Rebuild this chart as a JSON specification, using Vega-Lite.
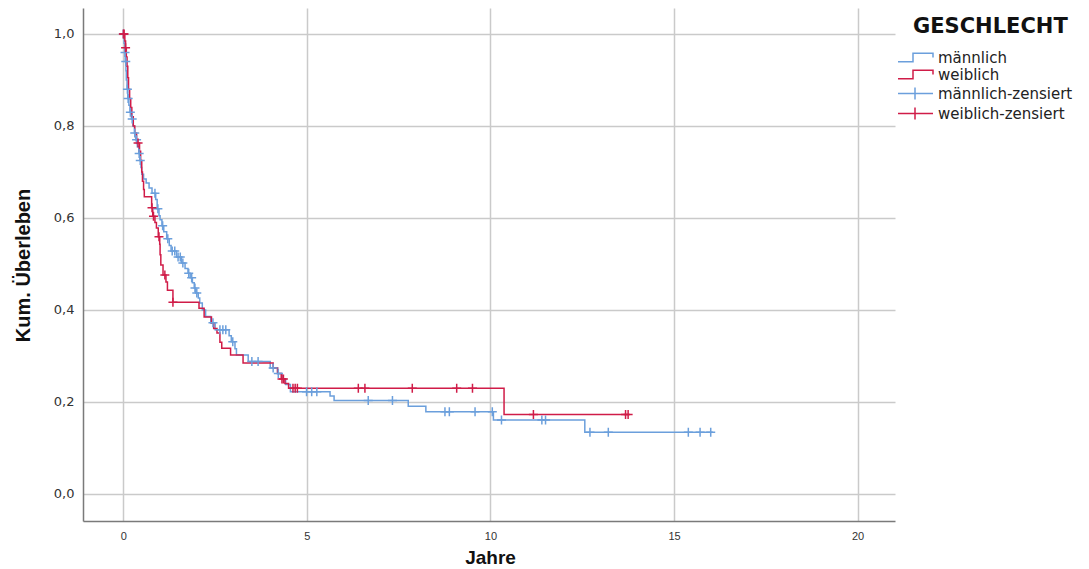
{
  "$schema": "https://vega.github.io/schema/vega-lite/v6.json",
  "autosize": "none",
  "width": 812,
  "height": 513,
  "padding": {"left": 83, "top": 8, "right": 194, "bottom": 48},
  "background": "white",
  "config": {
    "view": {"stroke": null},
    "font": "Liberation Sans"
  },
  "datasets": {
    "curve": [
      {"g": "männlich", "t": 0, "s": 1.0},
      {"g": "männlich", "t": 0.02, "s": 0.98},
      {"g": "männlich", "t": 0.04, "s": 0.96},
      {"g": "männlich", "t": 0.05, "s": 0.94},
      {"g": "männlich", "t": 0.07, "s": 0.92},
      {"g": "männlich", "t": 0.08, "s": 0.9},
      {"g": "männlich", "t": 0.1, "s": 0.88},
      {"g": "männlich", "t": 0.12, "s": 0.86},
      {"g": "männlich", "t": 0.15, "s": 0.845},
      {"g": "männlich", "t": 0.18, "s": 0.83},
      {"g": "männlich", "t": 0.22, "s": 0.815},
      {"g": "männlich", "t": 0.26, "s": 0.8},
      {"g": "männlich", "t": 0.3, "s": 0.785},
      {"g": "männlich", "t": 0.34, "s": 0.77},
      {"g": "männlich", "t": 0.38, "s": 0.755},
      {"g": "männlich", "t": 0.42, "s": 0.74},
      {"g": "männlich", "t": 0.45, "s": 0.725},
      {"g": "männlich", "t": 0.48, "s": 0.71},
      {"g": "männlich", "t": 0.5, "s": 0.695},
      {"g": "männlich", "t": 0.55, "s": 0.685},
      {"g": "männlich", "t": 0.62, "s": 0.676},
      {"g": "männlich", "t": 0.7, "s": 0.665},
      {"g": "männlich", "t": 0.78, "s": 0.654},
      {"g": "männlich", "t": 0.88, "s": 0.64},
      {"g": "männlich", "t": 0.92, "s": 0.62},
      {"g": "männlich", "t": 0.97, "s": 0.605},
      {"g": "männlich", "t": 1.0, "s": 0.596},
      {"g": "männlich", "t": 1.05, "s": 0.583},
      {"g": "männlich", "t": 1.1, "s": 0.57},
      {"g": "männlich", "t": 1.18, "s": 0.555},
      {"g": "männlich", "t": 1.25, "s": 0.54},
      {"g": "männlich", "t": 1.3, "s": 0.528},
      {"g": "männlich", "t": 1.45, "s": 0.515},
      {"g": "männlich", "t": 1.58, "s": 0.502},
      {"g": "männlich", "t": 1.68, "s": 0.49},
      {"g": "männlich", "t": 1.76, "s": 0.48},
      {"g": "männlich", "t": 1.82, "s": 0.47},
      {"g": "männlich", "t": 1.88, "s": 0.459},
      {"g": "männlich", "t": 1.93, "s": 0.448},
      {"g": "männlich", "t": 1.97, "s": 0.437},
      {"g": "männlich", "t": 2.04, "s": 0.426},
      {"g": "männlich", "t": 2.08, "s": 0.415},
      {"g": "männlich", "t": 2.15, "s": 0.4},
      {"g": "männlich", "t": 2.24, "s": 0.386},
      {"g": "männlich", "t": 2.38, "s": 0.372},
      {"g": "männlich", "t": 2.5, "s": 0.357},
      {"g": "männlich", "t": 2.88, "s": 0.344},
      {"g": "männlich", "t": 2.94, "s": 0.331},
      {"g": "männlich", "t": 3.04, "s": 0.316},
      {"g": "männlich", "t": 3.08, "s": 0.302},
      {"g": "männlich", "t": 3.4, "s": 0.288},
      {"g": "männlich", "t": 4.0, "s": 0.274},
      {"g": "männlich", "t": 4.2, "s": 0.262},
      {"g": "männlich", "t": 4.32, "s": 0.25},
      {"g": "männlich", "t": 4.42, "s": 0.238},
      {"g": "männlich", "t": 4.55, "s": 0.2225},
      {"g": "männlich", "t": 5.63, "s": 0.213},
      {"g": "männlich", "t": 5.74, "s": 0.203},
      {"g": "männlich", "t": 7.76, "s": 0.191},
      {"g": "männlich", "t": 8.24, "s": 0.179},
      {"g": "männlich", "t": 10.08, "s": 0.161},
      {"g": "männlich", "t": 12.57, "s": 0.134},
      {"g": "männlich", "t": 16.06, "s": 0.134},
      {"g": "weiblich", "t": 0, "s": 1.0},
      {"g": "weiblich", "t": 0.04, "s": 0.985},
      {"g": "weiblich", "t": 0.06, "s": 0.97},
      {"g": "weiblich", "t": 0.08, "s": 0.95},
      {"g": "weiblich", "t": 0.1, "s": 0.93},
      {"g": "weiblich", "t": 0.12, "s": 0.905},
      {"g": "weiblich", "t": 0.14, "s": 0.88},
      {"g": "weiblich", "t": 0.17, "s": 0.86},
      {"g": "weiblich", "t": 0.2, "s": 0.84},
      {"g": "weiblich", "t": 0.23, "s": 0.82},
      {"g": "weiblich", "t": 0.27, "s": 0.8},
      {"g": "weiblich", "t": 0.31, "s": 0.785},
      {"g": "weiblich", "t": 0.36, "s": 0.763},
      {"g": "weiblich", "t": 0.44, "s": 0.745},
      {"g": "weiblich", "t": 0.47, "s": 0.725},
      {"g": "weiblich", "t": 0.5, "s": 0.7},
      {"g": "weiblich", "t": 0.52, "s": 0.68},
      {"g": "weiblich", "t": 0.55, "s": 0.662},
      {"g": "weiblich", "t": 0.57, "s": 0.646},
      {"g": "weiblich", "t": 0.77, "s": 0.622},
      {"g": "weiblich", "t": 0.8, "s": 0.604},
      {"g": "weiblich", "t": 0.86, "s": 0.59},
      {"g": "weiblich", "t": 0.9, "s": 0.578},
      {"g": "weiblich", "t": 0.95, "s": 0.559},
      {"g": "weiblich", "t": 0.99, "s": 0.543},
      {"g": "weiblich", "t": 1.0, "s": 0.52},
      {"g": "weiblich", "t": 1.02, "s": 0.498},
      {"g": "weiblich", "t": 1.08, "s": 0.476},
      {"g": "weiblich", "t": 1.16, "s": 0.461},
      {"g": "weiblich", "t": 1.2, "s": 0.443},
      {"g": "weiblich", "t": 1.35, "s": 0.417},
      {"g": "weiblich", "t": 2.06, "s": 0.404},
      {"g": "weiblich", "t": 2.2, "s": 0.385},
      {"g": "weiblich", "t": 2.4, "s": 0.372},
      {"g": "weiblich", "t": 2.46, "s": 0.36},
      {"g": "weiblich", "t": 2.55, "s": 0.35},
      {"g": "weiblich", "t": 2.63, "s": 0.33},
      {"g": "weiblich", "t": 2.68, "s": 0.317},
      {"g": "weiblich", "t": 2.92, "s": 0.302},
      {"g": "weiblich", "t": 3.26, "s": 0.285},
      {"g": "weiblich", "t": 4.08, "s": 0.274},
      {"g": "weiblich", "t": 4.2, "s": 0.262},
      {"g": "weiblich", "t": 4.3, "s": 0.25},
      {"g": "weiblich", "t": 4.4, "s": 0.24},
      {"g": "weiblich", "t": 4.5, "s": 0.2297},
      {"g": "weiblich", "t": 10.37, "s": 0.173},
      {"g": "weiblich", "t": 13.75, "s": 0.173}
    ],
    "censor": [
      {"g": "männlich-zensiert", "t": 0.0, "s": 1.0},
      {"g": "männlich-zensiert", "t": 0.045, "s": 0.96},
      {"g": "männlich-zensiert", "t": 0.065, "s": 0.94},
      {"g": "männlich-zensiert", "t": 0.11, "s": 0.88},
      {"g": "männlich-zensiert", "t": 0.13, "s": 0.86},
      {"g": "männlich-zensiert", "t": 0.19, "s": 0.83},
      {"g": "männlich-zensiert", "t": 0.24, "s": 0.815},
      {"g": "männlich-zensiert", "t": 0.31, "s": 0.785},
      {"g": "männlich-zensiert", "t": 0.36, "s": 0.77},
      {"g": "männlich-zensiert", "t": 0.43, "s": 0.74},
      {"g": "männlich-zensiert", "t": 0.46, "s": 0.725},
      {"g": "männlich-zensiert", "t": 0.86, "s": 0.654},
      {"g": "männlich-zensiert", "t": 0.94, "s": 0.62},
      {"g": "männlich-zensiert", "t": 1.07, "s": 0.583},
      {"g": "männlich-zensiert", "t": 1.21, "s": 0.555},
      {"g": "männlich-zensiert", "t": 1.33, "s": 0.528},
      {"g": "männlich-zensiert", "t": 1.4, "s": 0.528},
      {"g": "männlich-zensiert", "t": 1.49, "s": 0.515},
      {"g": "männlich-zensiert", "t": 1.55, "s": 0.515},
      {"g": "männlich-zensiert", "t": 1.62, "s": 0.502},
      {"g": "männlich-zensiert", "t": 1.78, "s": 0.48},
      {"g": "männlich-zensiert", "t": 1.86, "s": 0.47},
      {"g": "männlich-zensiert", "t": 1.95, "s": 0.448},
      {"g": "männlich-zensiert", "t": 2.0, "s": 0.437},
      {"g": "männlich-zensiert", "t": 2.44, "s": 0.372},
      {"g": "männlich-zensiert", "t": 2.63, "s": 0.357},
      {"g": "männlich-zensiert", "t": 2.71, "s": 0.357},
      {"g": "männlich-zensiert", "t": 2.79, "s": 0.357},
      {"g": "männlich-zensiert", "t": 2.98, "s": 0.331},
      {"g": "männlich-zensiert", "t": 3.5, "s": 0.288},
      {"g": "männlich-zensiert", "t": 3.67, "s": 0.288},
      {"g": "männlich-zensiert", "t": 4.08, "s": 0.274},
      {"g": "männlich-zensiert", "t": 4.22, "s": 0.262},
      {"g": "männlich-zensiert", "t": 4.99, "s": 0.2225},
      {"g": "männlich-zensiert", "t": 5.13, "s": 0.2225},
      {"g": "männlich-zensiert", "t": 5.27, "s": 0.2225},
      {"g": "männlich-zensiert", "t": 6.67, "s": 0.203},
      {"g": "männlich-zensiert", "t": 7.33, "s": 0.203},
      {"g": "männlich-zensiert", "t": 8.76, "s": 0.179},
      {"g": "männlich-zensiert", "t": 8.88, "s": 0.179},
      {"g": "männlich-zensiert", "t": 9.58, "s": 0.179},
      {"g": "männlich-zensiert", "t": 10.05, "s": 0.179},
      {"g": "männlich-zensiert", "t": 10.3, "s": 0.161},
      {"g": "männlich-zensiert", "t": 11.4, "s": 0.161},
      {"g": "männlich-zensiert", "t": 11.5, "s": 0.161},
      {"g": "männlich-zensiert", "t": 12.71, "s": 0.134},
      {"g": "männlich-zensiert", "t": 13.21, "s": 0.134},
      {"g": "männlich-zensiert", "t": 15.39, "s": 0.134},
      {"g": "männlich-zensiert", "t": 15.71, "s": 0.134},
      {"g": "männlich-zensiert", "t": 16.0, "s": 0.134},
      {"g": "weiblich-zensiert", "t": 0.0, "s": 1.0},
      {"g": "weiblich-zensiert", "t": 0.02, "s": 1.0},
      {"g": "weiblich-zensiert", "t": 0.06, "s": 0.97},
      {"g": "weiblich-zensiert", "t": 0.4, "s": 0.763},
      {"g": "weiblich-zensiert", "t": 0.78, "s": 0.622},
      {"g": "weiblich-zensiert", "t": 0.82, "s": 0.604},
      {"g": "weiblich-zensiert", "t": 0.97, "s": 0.559},
      {"g": "weiblich-zensiert", "t": 1.13, "s": 0.476},
      {"g": "weiblich-zensiert", "t": 1.35, "s": 0.417},
      {"g": "weiblich-zensiert", "t": 4.32, "s": 0.25},
      {"g": "weiblich-zensiert", "t": 4.36, "s": 0.25},
      {"g": "weiblich-zensiert", "t": 4.62, "s": 0.2297},
      {"g": "weiblich-zensiert", "t": 4.68, "s": 0.2297},
      {"g": "weiblich-zensiert", "t": 4.74, "s": 0.2297},
      {"g": "weiblich-zensiert", "t": 6.4, "s": 0.2297},
      {"g": "weiblich-zensiert", "t": 6.58, "s": 0.2297},
      {"g": "weiblich-zensiert", "t": 7.87, "s": 0.2297},
      {"g": "weiblich-zensiert", "t": 9.08, "s": 0.2297},
      {"g": "weiblich-zensiert", "t": 9.51, "s": 0.2297},
      {"g": "weiblich-zensiert", "t": 11.17, "s": 0.173},
      {"g": "weiblich-zensiert", "t": 13.68, "s": 0.173},
      {"g": "weiblich-zensiert", "t": 13.75, "s": 0.173}
    ]
  },
  "encoding": {
    "x": {
      "field": "t",
      "type": "quantitative",
      "scale": {"domain": [-1.1, 21.02], "nice": false, "zero": false},
      "axis": {
        "title": "Jahre",
        "values": [0, 5, 10, 15, 20],
        "grid": true,
        "gridColor": "#cacaca",
        "gridWidth": 1.5,
        "ticks": false,
        "domainColor": "#7a7a7a",
        "domainWidth": 1.5,
        "labelFont": "Liberation Sans",
        "labelFontSize": 11,
        "labelColor": "#333333",
        "labelPadding": 9,
        "titleFont": "Liberation Sans",
        "titleFontSize": 19,
        "titleFontWeight": "bold",
        "titleColor": "#111111",
        "titleX": 407,
        "titleY": 42,
        "titleAlign": "center",
        "titleBaseline": "alphabetic"
      }
    },
    "y": {
      "field": "s",
      "type": "quantitative",
      "scale": {"domain": [-0.0587, 1.0565], "nice": false, "zero": false},
      "axis": {
        "title": "Kum. Überleben",
        "values": [0, 0.2, 0.4, 0.6, 0.8, 1.0],
        "labelExpr": "replace(format(datum.value, '.1f'), '.', ',')",
        "grid": true,
        "gridColor": "#cacaca",
        "gridWidth": 1.5,
        "ticks": false,
        "domainColor": "#7a7a7a",
        "domainWidth": 1.5,
        "labelFont": "DejaVu Sans",
        "labelFontSize": 13,
        "labelColor": "#333333",
        "labelPadding": 9,
        "titleFont": "Liberation Sans",
        "titleFontSize": 20,
        "titleFontWeight": "bold",
        "titleColor": "#111111",
        "titleAngle": 270,
        "titleX": -60,
        "titleY": 257,
        "titleAlign": "center",
        "titleBaseline": "middle"
      }
    },
    "color": {
      "field": "g",
      "type": "nominal",
      "scale": {
        "domain": ["männlich", "weiblich", "männlich-zensiert", "weiblich-zensiert"],
        "range": ["#6b9fdc", "#d01c48", "#6b9fdc", "#d01c48"]
      },
      "legend": {
        "title": "GESCHLECHT",
        "orient": "none",
        "legendX": 825,
        "legendY": 11,
        "titleFont": "DejaVu Sans",
        "titleFontSize": 21,
        "titleFontWeight": "bold",
        "titleColor": "#111111",
        "titlePadding": 10,
        "labelFont": "DejaVu Sans",
        "labelFontSize": 15,
        "labelColor": "#222222",
        "labelOffset": 15,
        "symbolSize": 100,
        "symbolStrokeWidth": 1.5,
        "rowPadding": 1,
        "encode": {
          "title": {"update": {"dx": {"value": 5}, "dy": {"value": -3}}},
          "symbols": {
            "update": {
              "shape": {"signal": "indexof(datum.value, 'zensiert') >= 0 ? 'M-3.5,0H3.5M-0.1,-1.2V1.2' : 'M-3.5,0.86H-0.5V-0.86H3.5V0'"},
              "fill": {"value": "transparent"},
              "stroke": {"scale": "color", "field": "value"},
              "strokeWidth": {"value": 1.5},
              "opacity": {"value": 1}
            }
          }
        }
      }
    }
  },
  "layer": [
    {
      "data": {"name": "curve"},
      "mark": {"type": "line", "interpolate": "step-after", "strokeWidth": 1.5},
      "encoding": {"detail": {"field": "g"}}
    },
    {
      "data": {"name": "censor"},
      "mark": {
        "type": "point",
        "shape": "M-1,0H1M0,-1V1",
        "size": 81,
        "filled": false,
        "strokeWidth": 1.5,
        "opacity": 1
      }
    }
  ]
}
